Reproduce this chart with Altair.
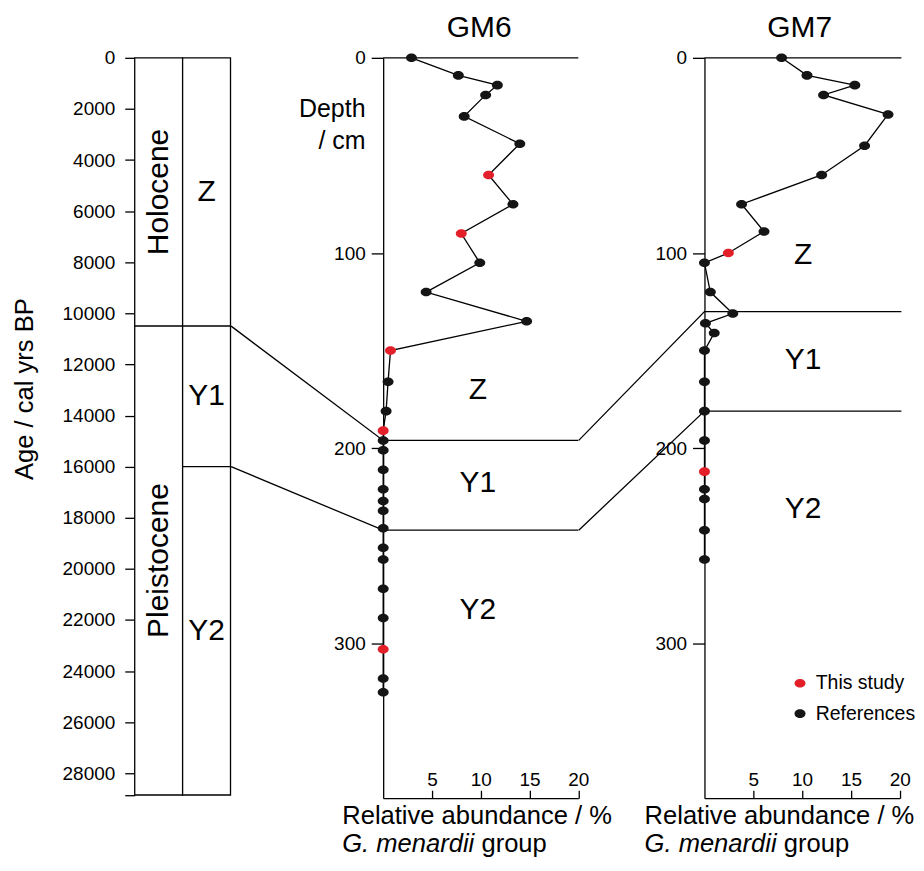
import altair as alt
import pandas as pd

# ---------------- data ----------------
epochs = ["Holocene", "Pleistocene"]
epoch_start = [0, 10500]
epoch_end = [10500, 28850]

zones = ["Z", "Y1", "Y2"]
zone_start = [0, 10500, 16000]
zone_end = [10500, 16000, 28850]

age_ticks = [0, 2000, 4000, 6000, 8000, 10000, 12000, 14000,
             16000, 18000, 20000, 22000, 24000, 26000, 28000]

gm6_depth = [0, 9, 14, 19, 30, 44, 60, 75, 90, 105, 120, 135, 150, 166, 181,
             191, 196, 201, 211, 221, 227, 232, 241, 251, 257, 272, 287, 303, 318, 325]
gm6_abund = [2.9, 7.7, 11.7, 10.5, 8.3, 14.0, 10.8, 13.3, 8.0, 9.9, 4.4, 14.7, 0.75, 0.5, 0.3,
             0, 0, 0, 0, 0, 0, 0, 0, 0, 0, 0, 0, 0, 0, 0]
gm6_this_study = [60, 90, 150, 191, 303]

gm7_depth = [0, 9, 14, 19, 29, 45, 60, 75, 89, 100, 105, 120, 131, 136, 141,
             150, 166, 181, 196, 212, 221, 226, 242, 257]
gm7_abund = [7.9, 10.5, 15.4, 12.2, 18.8, 16.4, 12.0, 3.8, 6.1, 2.45, 0, 0.6, 2.9, 0.1, 1.0,
             0, 0, 0, 0, 0, 0, 0, 0, 0]
gm7_this_study = [100, 212]

# zone boundaries (Z/Y1, Y1/Y2): age in the column, depth in each core
bound_age = [10500, 16000]
bound_gm6 = [196, 242]
bound_gm7 = [130, 181]

# zone label placement inside the core panels
gm6_zone_label_depth = [170, 218, 283]
gm7_zone_label_depth = [101, 155, 231]

depth_ticks = [0, 100, 200, 300]
abund_ticks = [5, 10, 15, 20]

# ---------------- layout / style ----------------
FONT = "Liberation Sans"
RED = "#e3202a"
BLACK = "#151515"
LW = 1.3
ELLIPSE = "M-1,0A1,0.78,0,1,1,1,0A1,0.78,0,1,1,-1,0Z"

H = 742
AGE_MAX = 28976
DEPTH_MAX = 379.3
COL_W = 96
A_W = 122.4
GAP = 126
W6 = 195.6
W7 = 195.7
XMAX = 20
X7_END = 20.17


def age_to_depth(a):
    return a * DEPTH_MAX / AGE_MAX


one = pd.DataFrame({"k": [0]})
no_view = alt.ViewBackground(stroke=None, fill=None)

# ---------------- column panel ----------------
col_df = pd.DataFrame({
    "col": ["epoch"] * len(epochs) + ["zone"] * len(zones),
    "name": epochs + zones,
    "start": epoch_start + zone_start,
    "end": epoch_end + zone_end,
})
col_df["mid"] = (col_df["start"] + col_df["end"]) / 2

xcol = alt.X("col:N", scale=alt.Scale(domain=["epoch", "zone"], range=[0, COL_W],
                                      paddingInner=0, paddingOuter=0), axis=None)
age_scale = alt.Scale(domain=[0, AGE_MAX], reverse=True, nice=False, zero=False)
age_axis = alt.Axis(values=age_ticks + [28850], format="d",
                    labelExpr="datum.value > 28000 ? '' : datum.label",
                    tickSize=10, tickWidth=LW, tickColor="black", labelPadding=10,
                    labelFontSize=19, labelColor="black", labelFont=FONT,
                    domain=False, grid=False,
                    title="Age / cal yrs BP", titleFontSize=25.6, titleFontWeight="normal",
                    titleColor="black", titleFont=FONT, titlePadding=24.5, titleY=331.5)

rects = alt.Chart(col_df).mark_rect(fill="white", stroke="black", strokeWidth=LW).encode(
    x=xcol, y=alt.Y("start:Q", scale=age_scale, axis=age_axis), y2="end:Q")
ep_text = alt.Chart(col_df[col_df["col"] == "epoch"]).mark_text(
    angle=270, fontSize=30, font=FONT, color="black", align="center", baseline="middle").encode(
    x=xcol, y=alt.Y("mid:Q", scale=age_scale, axis=age_axis), text="name:N")
zn_text = alt.Chart(col_df[col_df["col"] == "zone"]).mark_text(
    fontSize=30, font=FONT, color="black", align="center", baseline="middle").encode(
    x=xcol, y=alt.Y("mid:Q", scale=age_scale, axis=age_axis), text="name:N")

panel_a = alt.layer(rects, ep_text, zn_text).properties(width=A_W, height=H, view=no_view)

# ---------------- core panels ----------------
color_scale = alt.Scale(domain=["This study", "References"], range=[RED, BLACK])


def core_panel(title, depth, abund, this_study, conn_df, zlab_depth, zlab_x,
               width, x_end, title_x, label_left, legend, extra=None):
    xs = alt.Scale(domain=[0, XMAX], nice=False, zero=False)
    ys = alt.Scale(domain=[0, DEPTH_MAX], reverse=True, nice=False, zero=False)
    x_axis = alt.Axis(orient="top", offset=-H, values=abund_ticks, tickSize=8, tickWidth=LW,
                      tickColor="black", domainColor="black", domainWidth=LW,
                      labelPadding=1, labelFontSize=19, labelColor="black", labelFont=FONT,
                      labelFlush=False, labelOverlap=False, grid=False, title=None)
    y_axis = alt.Axis(orient="left", values=depth_ticks, tickSize=12, tickWidth=LW,
                      tickColor="black", domainColor="black", domainWidth=LW,
                      labelPadding=6, labelFontSize=19, labelColor="black", labelFont=FONT,
                      labelOverlap=False, grid=False, title=None)
    xenc = alt.X("x:Q", scale=xs, axis=x_axis)
    yenc = alt.Y("d:Q", scale=ys, axis=y_axis)

    df = pd.DataFrame({"x": abund, "d": depth,
                       "src": ["This study" if d in this_study else "References" for d in depth]})

    top = alt.Chart(pd.DataFrame({"x": [0], "x2": [x_end], "d": [0]})).mark_rule(
        color="black", strokeWidth=LW).encode(x=xenc, x2="x2:Q", y=yenc)
    conn = alt.Chart(conn_df).mark_line(color="black", strokeWidth=LW).encode(
        x=xenc, y=yenc, detail="grp:N", order="seq:Q")
    line = alt.Chart(df).mark_line(color="black", strokeWidth=LW).encode(
        x=xenc, y=yenc, order="d:Q")
    pts = alt.Chart(df).mark_point(filled=True, opacity=1, shape=ELLIPSE, size=121,
                                   strokeWidth=0).encode(
        x=xenc, y=yenc,
        color=alt.Color("src:N", scale=color_scale, legend=legend))
    zl = alt.Chart(pd.DataFrame({"name": zones, "d": zlab_depth, "x": [zlab_x] * 3})).mark_text(
        fontSize=30, font=FONT, color="black", align="center", baseline="middle").encode(
        x=xenc, y=yenc, text="name:N")
    ttl = alt.Chart(one).mark_text(text=title, fontSize=30, font=FONT, color="black",
                                   align="center", baseline="middle").encode(
        x=alt.value(title_x), y=alt.value(-30))
    xt1 = alt.Chart(one).mark_text(text="Relative abundance / %", fontSize=25.6, font=FONT,
                                   color="black", align="left", baseline="middle").encode(
        x=alt.value(label_left), y=alt.value(760))
    xt2 = alt.Chart(one).mark_text(text="G. menardii", fontSize=25.6, font=FONT,
                                   fontStyle="italic", color="black", align="left",
                                   baseline="middle").encode(
        x=alt.value(label_left), y=alt.value(788))
    xt3 = alt.Chart(one).mark_text(text="group", fontSize=25.6, font=FONT, color="black",
                                   align="left", baseline="middle").encode(
        x=alt.value(label_left + 139.5), y=alt.value(788))
    layers = [top, conn, line, pts, zl, ttl, xt1, xt2, xt3]
    if extra:
        layers += extra
    return alt.layer(*layers).properties(width=width, height=H, view=no_view)


# connecting lines
ext6 = (A_W - COL_W + GAP) / (W6 / XMAX)
ext7 = GAP / (W7 / XMAX)
rows6, rows7 = [], []
for i, (a, d6, d7) in enumerate(zip(bound_age, bound_gm6, bound_gm7)):
    rows6 += [{"grp": i, "seq": 0, "x": -ext6, "d": age_to_depth(a)},
              {"grp": i, "seq": 1, "x": 0, "d": d6},
              {"grp": i, "seq": 2, "x": XMAX, "d": d6}]
    rows7 += [{"grp": i, "seq": 0, "x": -ext7, "d": d6},
              {"grp": i, "seq": 1, "x": 0, "d": d7},
              {"grp": i, "seq": 2, "x": X7_END, "d": d7}]
conn6 = pd.DataFrame(rows6)
conn7 = pd.DataFrame(rows7)

depth_lbl = [
    alt.Chart(one).mark_text(text="Depth", fontSize=25, font=FONT, color="black",
                             align="right", baseline="middle").encode(
        x=alt.value(-17.7), y=alt.value(51)),
    alt.Chart(one).mark_text(text="/ cm", fontSize=25, font=FONT, color="black",
                             align="right", baseline="middle").encode(
        x=alt.value(-17.7), y=alt.value(83)),
]

leg = alt.Legend(orient="none", legendX=657, legendY=617, title=None, labelFontSize=19.5,
                 labelFont=FONT, labelColor="black", symbolType=ELLIPSE, symbolSize=121,
                 symbolStrokeWidth=0, labelOffset=6, rowPadding=9.5, padding=0)

gm6 = core_panel("GM6", gm6_depth, gm6_abund, gm6_this_study, conn6, gm6_zone_label_depth,
                 9.7, W6, XMAX, 96.3, -41, leg, extra=depth_lbl)
gm7 = core_panel("GM7", gm7_depth, gm7_abund, gm7_this_study, conn7, gm7_zone_label_depth,
                 10.1, W7, X7_END, 95.5, -60, leg)

chart = alt.hconcat(panel_a, gm6, gm7, spacing=GAP, bounds="flush").properties(
    padding={"top": 4, "left": 4, "right": 0, "bottom": 0}
).configure_view(stroke=None).configure(font=FONT)

chart.save("out.html", embed_options={"renderer": "svg", "actions": False})
